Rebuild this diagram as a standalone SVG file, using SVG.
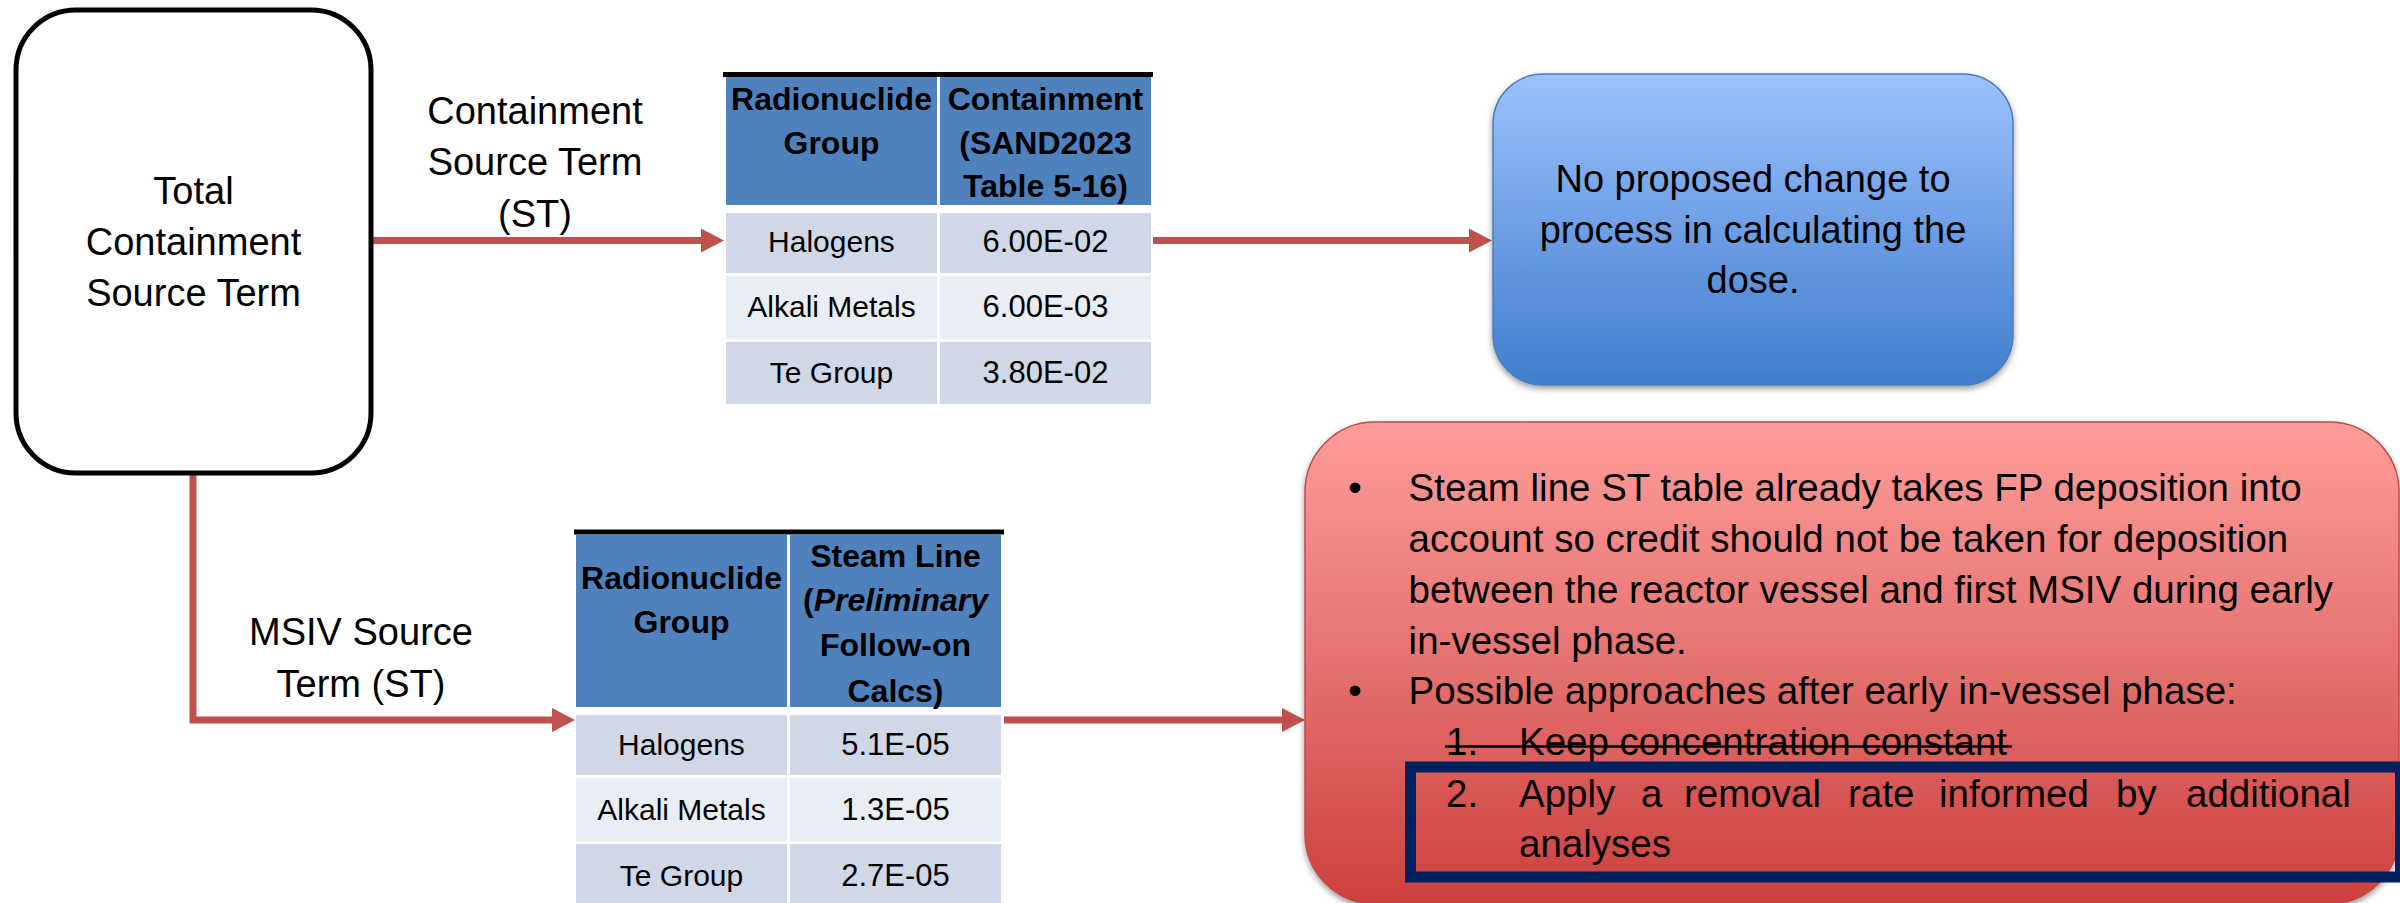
<svg xmlns="http://www.w3.org/2000/svg" width="2400" height="903" viewBox="0 0 2400 903">
<defs>
  <linearGradient id="gBlue" x1="0" y1="0" x2="0" y2="1">
    <stop offset="0" stop-color="#9CC2FE"/>
    <stop offset="0.5" stop-color="#6E9EE4"/>
    <stop offset="1" stop-color="#3F7ECD"/>
  </linearGradient>
  <linearGradient id="gRed" x1="0" y1="0" x2="0" y2="1">
    <stop offset="0" stop-color="#FF9D9A"/>
    <stop offset="0.5" stop-color="#E47270"/>
    <stop offset="1" stop-color="#CC403D"/>
  </linearGradient>
  <filter id="shadow" x="-5%" y="-5%" width="110%" height="115%">
    <feDropShadow dx="0" dy="3" stdDeviation="3" flood-color="#000" flood-opacity="0.4"/>
  </filter>
  <marker id="ah" markerUnits="userSpaceOnUse" markerWidth="24" markerHeight="24" refX="0" refY="12" orient="auto">
    <path d="M0,0 L23,12 L0,24 Z" fill="#C0504D"/>
  </marker>
  <style>
    text{font-family:"Liberation Sans",Arial,sans-serif;fill:#000}
    .lbl{font-size:38px;text-anchor:middle}
    .hdr{font-size:32px;font-weight:bold;text-anchor:middle}
    .cell{font-size:30px;text-anchor:middle}
    .val{font-size:31px;text-anchor:middle}
    .note{font-size:38.5px}
    .conn{fill:none;stroke:#C0504D;stroke-width:7}
    .hfill{fill:#4F81BD}
    .r1{fill:#D0D8E8}
    .r2{fill:#E9EDF4}
  </style>
</defs>
<rect width="2400" height="903" fill="#ffffff"/>

<g id="connectors">
  <path class="conn" d="M373,240.5 H701" marker-end="url(#ah)"/>
  <path class="conn" d="M1153,240.5 H1469" marker-end="url(#ah)"/>
  <path class="conn" d="M193,475 V720 H552" marker-end="url(#ah)"/>
  <path class="conn" d="M1004,720 H1282" marker-end="url(#ah)"/>
  <text class="lbl" x="535"><tspan x="535" y="124">Containment</tspan><tspan x="535" y="175">Source Term</tspan><tspan x="535" y="227">(ST)</tspan></text>
  <text class="lbl" x="361"><tspan x="361" y="645">MSIV Source</tspan><tspan x="361" y="697">Term (ST)</tspan></text>
</g>

<g id="node-total">
  <rect x="16" y="10" width="355" height="463" rx="60" ry="60" fill="#ffffff" stroke="#000000" stroke-width="5"/>
  <text class="lbl"><tspan x="193.5" y="204">Total</tspan><tspan x="193.5" y="255">Containment</tspan><tspan x="193.5" y="306">Source Term</tspan></text>
</g>

<g id="table-containment">
  <rect x="723" y="72" width="430" height="5" fill="#000"/>
  <rect class="hfill" x="726" y="77" width="211" height="128"/>
  <rect class="hfill" x="940" y="77" width="211" height="128"/>
  <rect class="r1" x="726" y="213" width="211" height="60"/>
  <rect class="r1" x="940" y="213" width="211" height="60"/>
  <rect class="r2" x="726" y="276" width="211" height="63"/>
  <rect class="r2" x="940" y="276" width="211" height="63"/>
  <rect class="r1" x="726" y="342" width="211" height="62"/>
  <rect class="r1" x="940" y="342" width="211" height="62"/>
  <text class="hdr"><tspan x="831.5" y="110">Radionuclide</tspan><tspan x="831.5" y="154">Group</tspan></text>
  <text class="hdr"><tspan x="1045.5" y="110">Containment</tspan><tspan x="1045.5" y="154">(SAND2023</tspan><tspan x="1045.5" y="197">Table 5-16)</tspan></text>
  <text class="cell" x="831.5" y="252">Halogens</text>
  <text class="val" x="1045.5" y="252">6.00E-02</text>
  <text class="cell" x="831.5" y="317">Alkali Metals</text>
  <text class="val" x="1045.5" y="317">6.00E-03</text>
  <text class="cell" x="831.5" y="383">Te Group</text>
  <text class="val" x="1045.5" y="383">3.80E-02</text>
</g>

<g id="table-steamline">
  <rect x="574" y="529.5" width="430" height="5" fill="#000"/>
  <rect class="hfill" x="576" y="534.5" width="211" height="172.5"/>
  <rect class="hfill" x="790" y="534.5" width="211" height="172.5"/>
  <rect class="r1" x="576" y="715" width="211" height="60"/>
  <rect class="r1" x="790" y="715" width="211" height="60"/>
  <rect class="r2" x="576" y="778" width="211" height="63"/>
  <rect class="r2" x="790" y="778" width="211" height="63"/>
  <rect class="r1" x="576" y="844" width="211" height="63"/>
  <rect class="r1" x="790" y="844" width="211" height="63"/>
  <text class="hdr"><tspan x="681.5" y="589">Radionuclide</tspan><tspan x="681.5" y="633">Group</tspan></text>
  <text class="hdr"><tspan x="895.5" y="567">Steam Line</tspan><tspan x="895.5" y="611">(<tspan font-style="italic">Preliminary</tspan></tspan><tspan x="895.5" y="656">Follow-on</tspan><tspan x="895.5" y="702">Calcs)</tspan></text>
  <text class="cell" x="681.5" y="755">Halogens</text>
  <text class="val" x="895.5" y="755">5.1E-05</text>
  <text class="cell" x="681.5" y="820">Alkali Metals</text>
  <text class="val" x="895.5" y="820">1.3E-05</text>
  <text class="cell" x="681.5" y="886">Te Group</text>
  <text class="val" x="895.5" y="886">2.7E-05</text>
</g>

<g id="node-no-change">
  <rect x="1493" y="74" width="520" height="311" rx="50" ry="50" fill="url(#gBlue)" stroke="#4A7EBB" stroke-width="1.5" filter="url(#shadow)"/>
  <text class="lbl"><tspan x="1753" y="192">No proposed change to</tspan><tspan x="1753" y="243">process in calculating the</tspan><tspan x="1753" y="293">dose.</tspan></text>
</g>

<g id="node-msiv-notes">
  <rect x="1305" y="422" width="1094" height="482" rx="70" ry="70" fill="url(#gRed)" stroke="#BE4B48" stroke-width="1.5" filter="url(#shadow)"/>
  <text class="note" x="1355" y="500.7" text-anchor="middle">•</text>
  <text class="note"><tspan x="1408.6" y="500.7">Steam line ST table already takes FP deposition into</tspan><tspan x="1408.6" y="551.7">account so credit should not be taken for deposition</tspan><tspan x="1408.6" y="602.7">between the reactor vessel and first MSIV during early</tspan><tspan x="1408.6" y="653.5">in-vessel phase.</tspan></text>
  <text class="note" x="1355" y="704" text-anchor="middle">•</text>
  <text class="note" x="1408.6" y="704">Possible approaches after early in-vessel phase:</text>
  <text class="note"><tspan x="1446" y="755">1.</tspan><tspan x="1519" y="755">Keep concentration constant</tspan></text>
  <line x1="1445" y1="746.5" x2="2012" y2="746.5" stroke="#000" stroke-width="2.5"/>
  <text class="note"><tspan x="1446" y="806.7">2.</tspan><tspan x="1519" y="806.7">Apply</tspan><tspan x="1641" y="806.7">a</tspan><tspan x="1684" y="806.7">removal</tspan><tspan x="1848" y="806.7">rate</tspan><tspan x="1939" y="806.7">informed</tspan><tspan x="2116" y="806.7">by</tspan><tspan x="2186" y="806.7">additional</tspan></text>
  <text class="note" x="1519" y="856.7">analyses</text>
  <rect x="1410.5" y="767" width="990" height="110" fill="none" stroke="#002060" stroke-width="11"/>
</g>
</svg>
